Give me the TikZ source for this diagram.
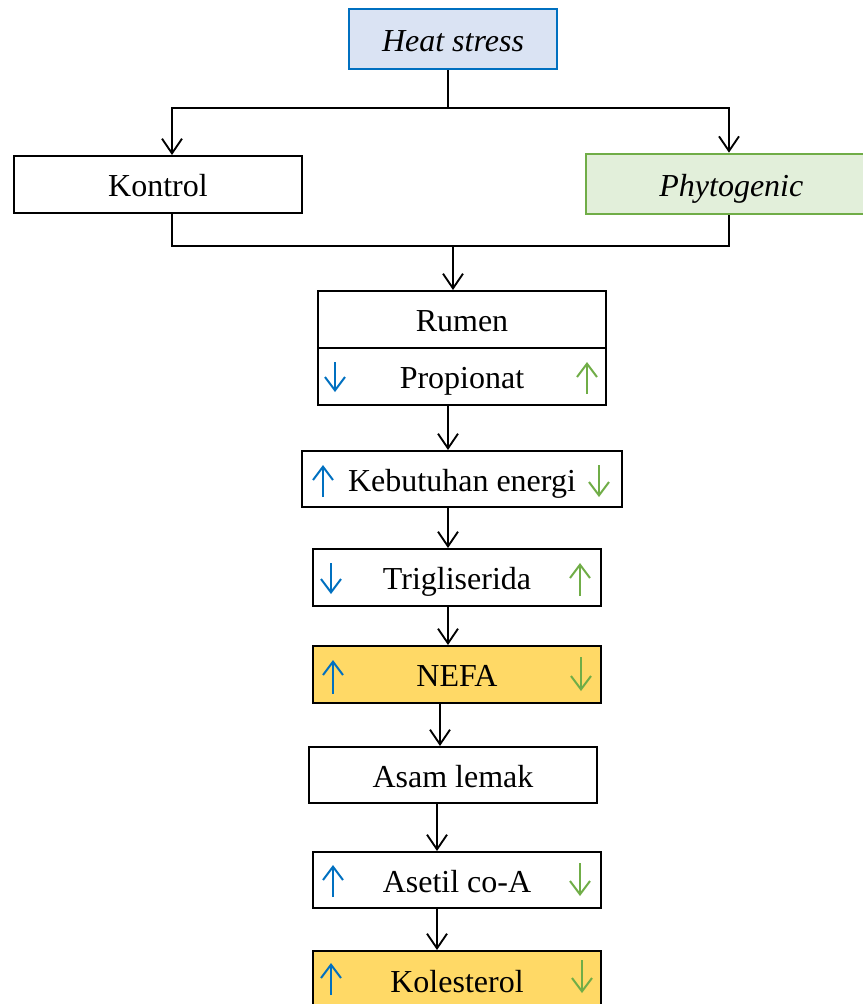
\documentclass[tikz,border=0pt]{standalone}
\usepackage{fontspec}
\setmainfont{Liberation Serif}
\usepackage{xcolor}
\usetikzlibrary{arrows.meta,positioning,calc}

\definecolor{hsblue}{HTML}{0070C0}
\definecolor{hsfill}{HTML}{DAE3F3}
\definecolor{phgreen}{HTML}{70AD47}
\definecolor{phfill}{HTML}{E2EFDA}
\definecolor{gold}{HTML}{FFD966}

\tikzset{
  box/.style={draw=black, line width=1.5pt, minimum width=216pt, minimum height=42.75pt,
    inner sep=0pt, text height=19pt, text depth=1pt},
  flow/.style={-{Straight Barb[length=11pt,width=15pt]}, line width=1.4pt},
  link/.style={line width=0.8pt},
  bluearr/.style={-{Straight Barb[length=10pt,width=15pt]}, line width=1.5pt, hsblue},
  greenarr/.style={-{Straight Barb[length=10pt,width=15pt]}, line width=1.5pt, phgreen}
}

\begin{document}
\begin{tikzpicture}[x=0.75pt, y=-0.75pt, font=\fontsize{24}{28}\selectfont]
  \useasboundingbox (0,0) rectangle (863,1004);

  % Treatments
  \node[box, draw=hsblue, line width=2pt, fill=hsfill, minimum width=156pt, minimum height=45pt] (heat) at (453,39) {\itshape Heat stress};
  \node[box] (kontrol) at (158,184.5) {Kontrol};
  \node[box, draw=phgreen, line width=2pt, fill=phfill, minimum width=210pt, minimum height=45pt] (phyto) at (726,184) {\hspace{8pt}\itshape Phytogenic};

  % Chain
  \node[box] (rumen) at (462,319.5) {Rumen};
  \node[box] (prop) at (462,376.5) {Propionat};
  \node[box, minimum width=240pt, minimum height=42pt] (energi) at (462,479) {Kebutuhan energi};
  \node[box] (trig) at (457,577.5) {Trigliserida};
  \node[box, fill=gold] (nefa) at (457,674.5) {NEFA};
  \node[box, minimum height=42pt] (asam) at (453,775) {Asam lemak};
  \node[box, minimum height=42pt] (asetil) at (457,880) {Asetil co-A};
  \node[box, fill=gold, minimum height=43.5pt] (kol) at (457,980) {Kolesterol};

  % Split
  \draw[link] ([xshift=-3.75pt]heat.south) -- ++(0,38) coordinate (split);
  \draw[flow] (split) -| ([xshift=10.5pt]kontrol.north);
  \draw[flow] (split) -| ([xshift=2.25pt]phyto.north);

  % Merge
  \draw[link] ([xshift=10.5pt]kontrol.south) -- ++(0,32) coordinate (merge) -| ([xshift=2.25pt]phyto.south);
  \coordinate (rin) at ([xshift=-6.75pt]rumen.north);
  \draw[flow] (rin |- merge) -- (rin);

  % Chain arrows
  \draw[flow] ([xshift=-10.5pt]prop.south) coordinate (t1) -- (t1 |- energi.north);
  \draw[flow] ([xshift=-10.5pt]energi.south) coordinate (t2) -- (t2 |- trig.north);
  \draw[flow] ([xshift=-6.75pt]trig.south) coordinate (t3) -- (t3 |- nefa.north);
  \draw[flow] ([xshift=-12.75pt]nefa.south) coordinate (t4) -- (t4 |- asam.north);
  \draw[flow] ([xshift=-12pt]asam.south) coordinate (t5) -- (t5 |- asetil.north);
  \draw[flow] ([xshift=-15pt]asetil.south) coordinate (t6) -- (t6 |- kol.north);

  % Heat stress (blue) vs phytogenic (green)
  \draw[bluearr] (335,362) -- (335,392);
  \draw[greenarr] (587,394) -- (587,362);
  \draw[bluearr] (323,497) -- (323,465);
  \draw[greenarr] (599,465) -- (599,497);
  \draw[bluearr] (331,563) -- (331,594);
  \draw[greenarr] (580,596) -- (580,563);
  \draw[bluearr] (333,694) -- (333,660);
  \draw[greenarr] (581,657) -- (581,691);
  \draw[bluearr] (333,897) -- (333,865);
  \draw[greenarr] (580,863) -- (580,896);
  \draw[bluearr] (331,995) -- (331,963);
  \draw[greenarr] (582,960) -- (582,993);

\end{tikzpicture}
\end{document}
